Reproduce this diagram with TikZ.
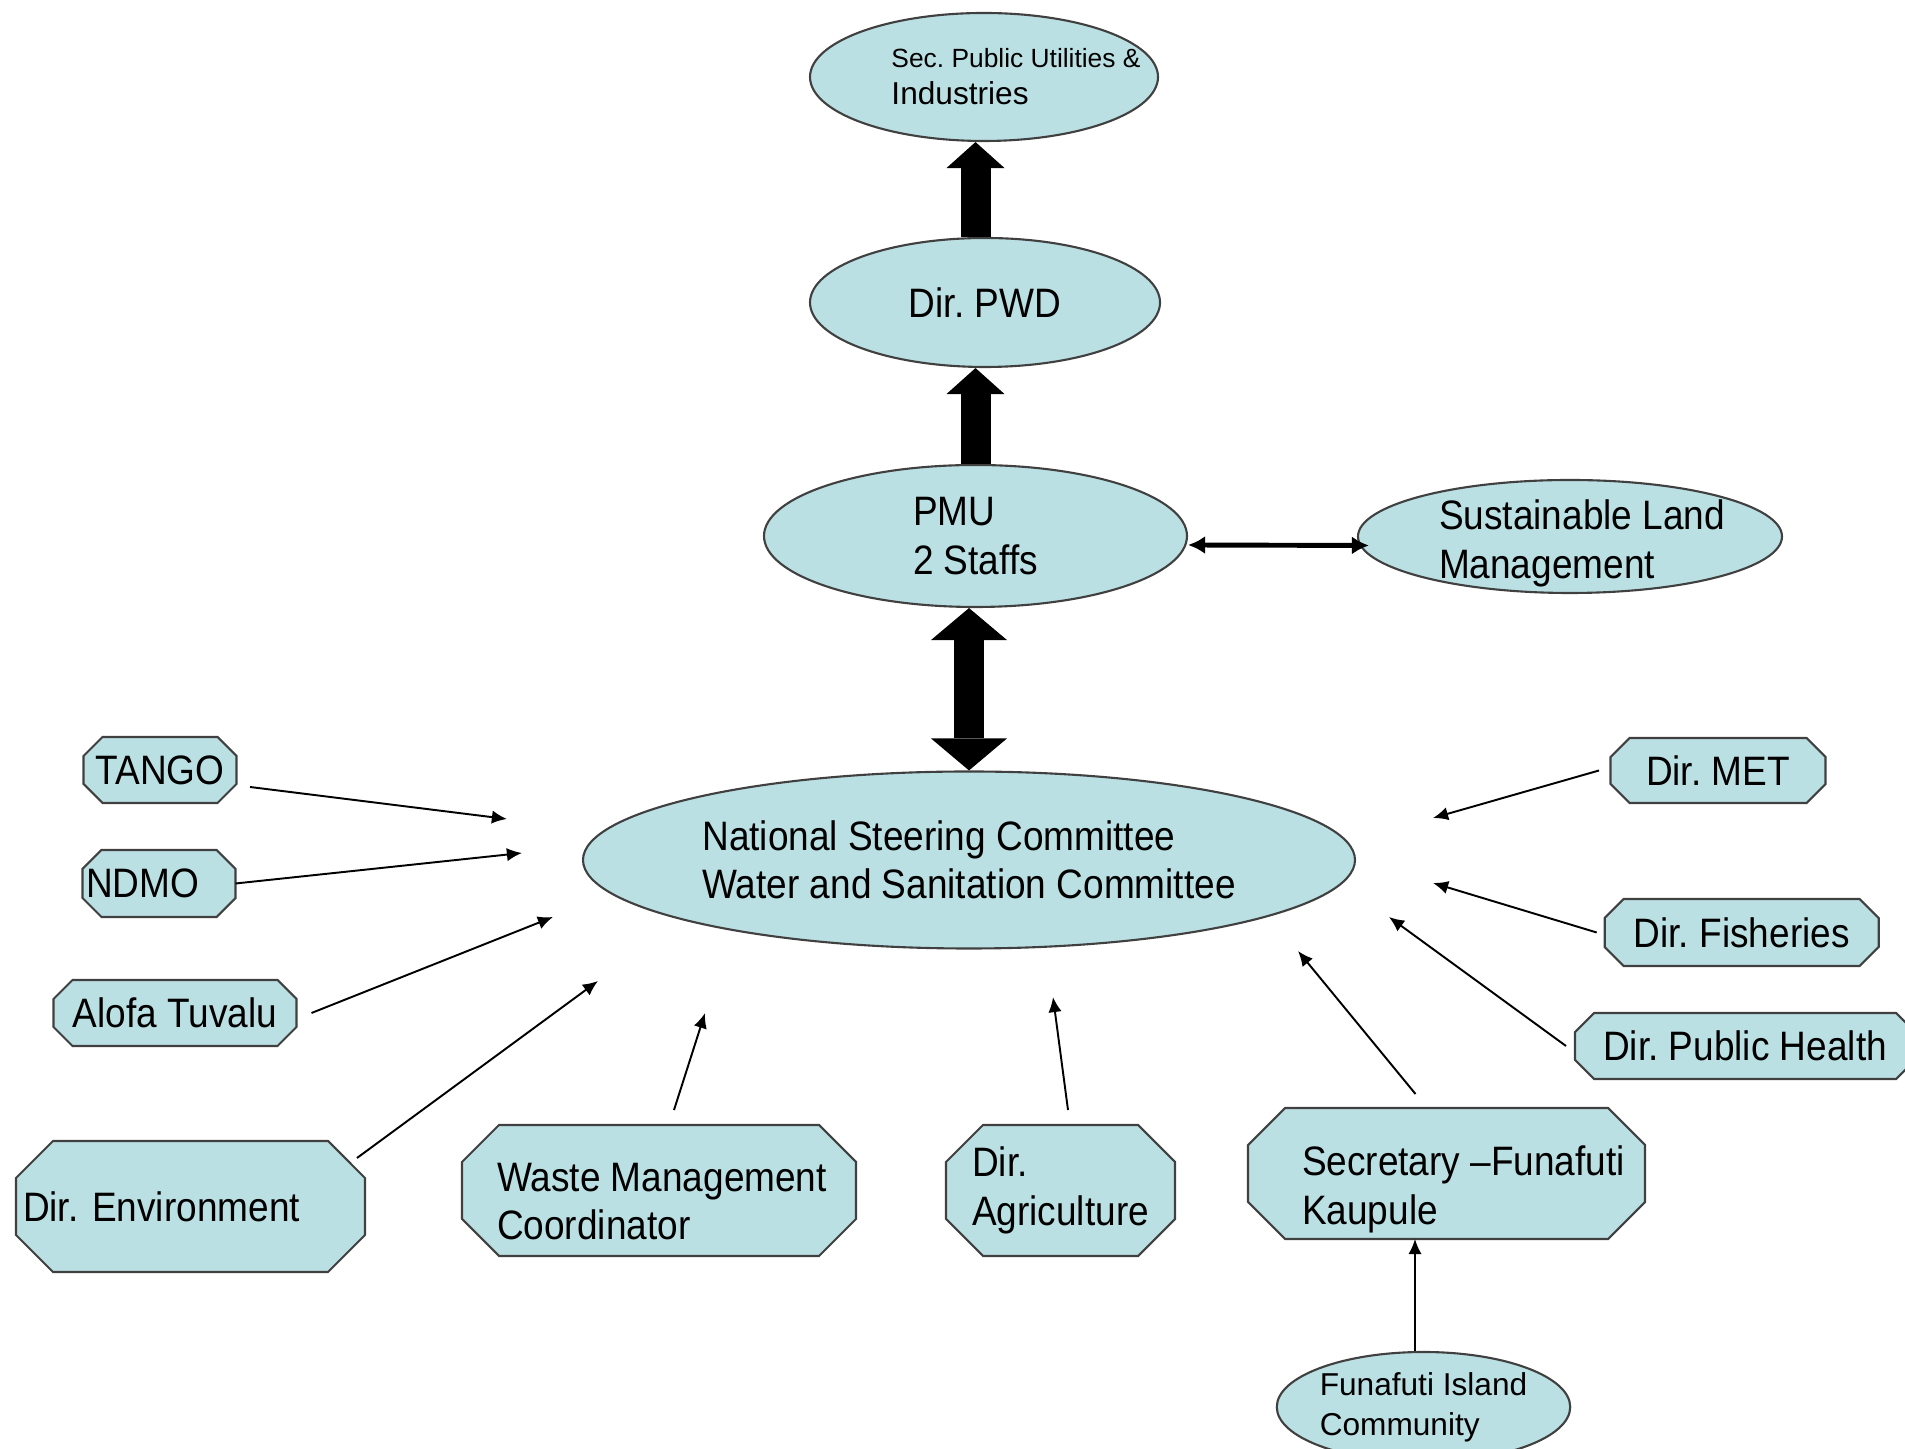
\documentclass[tikz,border=0pt]{standalone}
\usepackage{fontspec}
\setmainfont{Liberation Sans}[FakeStretch=0.9]
\newfontfamily\thinfont{Liberation Sans}
\usetikzlibrary{shapes.geometric,arrows.meta,backgrounds}

\definecolor{paleblue}{HTML}{BBE0E3}
\definecolor{edgegrey}{HTML}{404040}
\newcommand{\boxfont}{\fontsize{11.7pt}{13.8pt}\selectfont}
\newcommand{\octagon}[2]{%
  \filldraw[octline] ([xshift=#2]#1.north west) -- ([xshift=-#2]#1.north east)
    -- ([yshift=-#2]#1.north east) -- ([yshift=#2]#1.south east)
    -- ([xshift=-#2]#1.south east) -- ([xshift=#2]#1.south west)
    -- ([yshift=#2]#1.south west) -- ([yshift=-#2]#1.north west) -- cycle;}

\tikzset{
  bubble/.style={ellipse, fill=paleblue, draw=edgegrey, line width=0.6pt,
    inner sep=0pt, align=left, font=\boxfont},
  octbox/.style={rectangle, outer sep=0pt, inner xsep=1pt, align=left, font=\boxfont},
  boxtext/.style={font=\boxfont, align=left, inner sep=0pt},
  octline/.style={fill=paleblue, draw=edgegrey, line width=0.6pt},
  thinarrow/.style={-{Latex[length=4.3pt,width=3.8pt]}, line width=0.55pt},
  fatarrow/.style={-{Triangle[length=0.26cm,width=0.58cm,line width=0pt]}, line width=0.3cm},
  twinarrow/.style={{Triangle[length=0.32cm,width=0.76cm,line width=0pt]}-{Triangle[length=0.32cm,width=0.76cm,line width=0pt]}, line width=0.3cm},
  sidearrow/.style={{Latex[length=0.17cm,width=0.18cm]}-{Latex[length=0.17cm,width=0.18cm]}, line width=1.4pt}
}

\begin{document}
\frenchspacing
\begin{tikzpicture}
  \useasboundingbox (0,0) rectangle (19.05,14.49);
  % ellipses
  \node[bubble, minimum width=3.48cm, minimum height=1.28cm,
    label={[font=\thinfont\fontsize{7.5pt}{10.5pt}\selectfont, align=left, xshift=0.32cm]center:{Sec. Public Utilities \&\\{\fontsize{9pt}{10.5pt}\selectfont Industries}}}] (sec) at (9.84,13.72) {};
  \node[bubble, minimum width=3.5cm, minimum height=1.29cm] (pwd) at (9.85,11.465) {Dir. PWD};
  \node[bubble, minimum width=4.23cm, minimum height=1.42cm] (pmu) at (9.755,9.13) {PMU\\2 Staffs};
  \node[bubble, minimum width=4.24cm, minimum height=1.13cm,
    label={[boxtext, xshift=0.12cm, yshift=-0.07cm]center:{Sustainable Land\\Management}}] (slm) at (15.70,9.125) {};
  \node[bubble, minimum width=7.72cm, minimum height=1.77cm] (nsc) at (9.69,5.89) {National Steering Committee\\Water and Sanitation Committee};
  \node[bubble, minimum width=2.89cm, minimum height=1.10cm,
    font=\thinfont\fontsize{9pt}{11.4pt}\selectfont] (funa) at (14.235,0.42) {Funafuti Island\\Community};

  % octagons
  \node[octbox, minimum width=1.53cm, minimum height=0.66cm] (tango) at (1.60,6.79) {TANGO};
  \node[octbox, minimum width=1.52cm, minimum height=0.67cm, text width=1.46cm] (ndmo) at (1.59,5.655) {NDMO};
  \node[octbox, minimum width=2.43cm, minimum height=0.66cm] (alofa) at (1.75,4.36) {Alofa Tuvalu};
  \node[octbox, minimum width=3.49cm, minimum height=1.31cm, text width=3.35cm] (env) at (1.905,2.425) {Dir. Environment};
  \node[octbox, minimum width=3.94cm, minimum height=1.31cm,
    label={[boxtext, xshift=0.03cm, yshift=-0.11cm]center:{Waste Management\\Coordinator}}] (waste) at (6.59,2.585) {};
  \node[octbox, minimum width=2.29cm, minimum height=1.31cm] (agri) at (10.605,2.585) {Dir.\\Agriculture};
  \node[octbox, minimum width=3.97cm, minimum height=1.31cm,
    label={[boxtext, xshift=0.17cm, yshift=-0.16cm]center:{Secretary –Funafuti\\Kaupule}}] (secr) at (14.465,2.755) {};
  \node[octbox, minimum width=2.15cm, minimum height=0.65cm] (met) at (17.18,6.785) {Dir. MET};
  \node[octbox, minimum width=2.74cm, minimum height=0.67cm] (fish) at (17.417,5.165) {Dir. Fisheries};
  \node[octbox, minimum width=3.40cm, minimum height=0.66cm] (health) at (17.45,4.03) {Dir. Public Health};

  \begin{scope}[on background layer]
    \foreach \n/\c in {tango/1.9mm, ndmo/1.9mm, alofa/1.9mm, met/1.9mm, fish/1.9mm, health/1.9mm,
                       env/3.7mm, waste/3.7mm, agri/3.7mm, secr/3.7mm}
      \octagon{\n}{\c};
  \end{scope}

  % free ends of the thin arrows
  \coordinate (tango tip) at (5.07,6.30);
  \coordinate (ndmo tip) at (5.22,5.96);
  \coordinate (alofa tip) at (5.53,5.32);
  \coordinate (env tip) at (5.98,4.68);
  \coordinate (waste tip) at (7.05,4.36);
  \coordinate (agri tip) at (10.53,4.52);
  \coordinate (secr tip) at (12.98,4.98);
  \coordinate (health tip) at (13.89,5.32);
  \coordinate (fish tip) at (14.33,5.66);
  \coordinate (met tip) at (14.33,6.31);

  \draw[fatarrow] (pmu.north) -- (pmu.north |- pwd.south);
  \draw[fatarrow] (pmu.north |- pwd.north) -- (pmu.north |- sec.south);
  \draw[twinarrow] (nsc.north) -- (nsc.north |- pmu.south);
  \draw[sidearrow] ([yshift=-0.9mm]pmu.east) -- ([xshift=1.2mm,yshift=-0.9mm]slm.west);

  \draw[thinarrow] ([xshift=1.35mm,yshift=-1.7mm]tango.east) -- (tango tip);
  \draw[thinarrow] (ndmo.east) -- (ndmo tip);
  \draw[thinarrow] ([xshift=1.5mm]alofa.east) -- (alofa tip);
  \draw[thinarrow] ([xshift=-0.8mm,yshift=-1.7mm]env.north east) -- (env tip);
  \draw[thinarrow] ([xshift=1.5mm,yshift=1.5mm]waste.north) -- (waste tip);
  \draw[thinarrow] ([xshift=0.75mm,yshift=1.5mm]agri.north) -- (agri tip);
  \draw[thinarrow] ([xshift=-3.1mm,yshift=1.4mm]secr.north) -- (secr tip);
  \draw[thinarrow] ([xshift=-0.9mm]health.west) -- (health tip);
  \draw[thinarrow] ([xshift=-0.8mm]fish.west) -- (fish tip);
  \draw[thinarrow] ([xshift=-1.15mm]met.west) -- (met tip);
  \draw[thinarrow] ([xshift=-0.85mm]funa.north) -- ([xshift=-3.15mm]secr.south);
\end{tikzpicture}
\end{document}
